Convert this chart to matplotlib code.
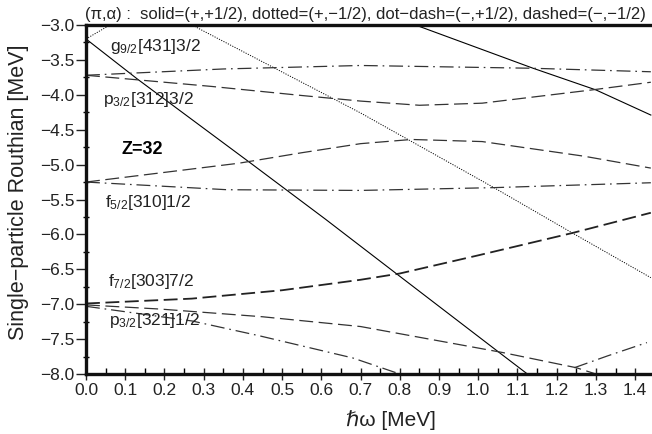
import numpy as np
import matplotlib
matplotlib.use("Agg")
import matplotlib.pyplot as plt

plt.rcParams['font.family'] = ['Liberation Sans', 'DejaVu Sans']
plt.rcParams['mathtext.fontset'] = 'custom'
plt.rcParams['mathtext.rm'] = 'Liberation Sans'
plt.rcParams['mathtext.it'] = 'Liberation Sans:italic'
plt.rcParams['mathtext.bf'] = 'Liberation Sans:bold'
plt.rcParams['lines.scale_dashes'] = False

# routhian curves, (hbar*omega [MeV], e' [MeV])
solid_a_w = [0.0, 0.13, 0.42, 0.61, 0.80, 1.06, 1.13]
solid_a_e = [-3.20, -3.77, -4.98, -5.78, -6.60, -7.72, -8.02]
solid_b_w = [0.84, 1.14, 1.30, 1.44]
solid_b_e = [-3.0, -3.62, -3.93, -4.29]

dotted_a_w = [0.0, 0.07]
dotted_a_e = [-3.20, -2.97]
dotted_b_w = [0.26, 0.70, 1.04, 1.24, 1.44]
dotted_b_e = [-2.97, -4.26, -5.33, -5.98, -6.62]

dashdot_a_w = [0.0, 0.35, 0.70, 1.14, 1.44]
dashdot_a_e = [-3.72, -3.63, -3.58, -3.62, -3.67]
dashdot_b_w = [0.0, 0.36, 0.70, 1.04, 1.44]
dashdot_b_e = [-5.25, -5.36, -5.37, -5.33, -5.26]
dashdot_c_w = [0.0, 0.27, 0.44, 0.68, 0.80]
dashdot_c_e = [-7.03, -7.24, -7.45, -7.77, -8.0]
dashdot_d_w = [1.245, 1.33, 1.43]
dashdot_d_e = [-7.91, -7.74, -7.55]

dashed_a_w = [0.0, 0.32, 0.55, 0.70, 0.85, 1.01, 1.29, 1.44]
dashed_a_e = [-3.72, -3.88, -4.01, -4.09, -4.15, -4.12, -3.93, -3.82]
dashed_b_w = [0.0, 0.39, 0.55, 0.70, 0.83, 1.01, 1.27, 1.44]
dashed_b_e = [-5.25, -4.98, -4.83, -4.70, -4.64, -4.67, -4.88, -5.05]
dashed_c_w = [0.0, 0.27, 0.50, 0.70, 0.80, 1.00, 1.24, 1.44]
dashed_c_e = [-6.99, -6.92, -6.80, -6.65, -6.56, -6.30, -5.98, -5.69]
dashed_d_w = [0.0, 0.19, 0.45, 0.70, 1.06, 1.25, 1.30]
dashed_d_e = [-7.01, -7.07, -7.18, -7.32, -7.69, -7.91, -8.0]

# orbital labels (left edge x, centre y)
labels = [r"g$_{\rm 9/2}$[431]3/2", r"p$_{\rm 3/2}$[312]3/2", r"f$_{\rm 5/2}$[310]1/2",
          r"f$_{\rm 7/2}$[303]7/2", r"p$_{\rm 3/2}$[321]1/2"]
label_w = [0.061, 0.044, 0.048, 0.057, 0.059]
label_e = [-3.31, -4.07, -5.54, -6.67, -7.24]


def minus_fmt(v, pos):
    return ("%.1f" % v).replace('-', '\u2212')


fig = plt.figure(figsize=(6.52, 4.34), dpi=100)
ax = fig.add_axes([86/652, 1 - 374/434, (652 - 86)/652, 349/434])

gray = '#333333'
for w, e in [(solid_a_w, solid_a_e), (solid_b_w, solid_b_e)]:
    ax.plot(w, e, color='black', lw=0.8)
for w, e in [(dotted_a_w, dotted_a_e), (dotted_b_w, dotted_b_e)]:
    ax.plot(w, e, color='black', lw=0.7, dashes=(0.8, 1.0))
for w, e in [(dashdot_a_w, dashdot_a_e), (dashdot_b_w, dashdot_b_e),
             (dashdot_c_w, dashdot_c_e), (dashdot_d_w, dashdot_d_e)]:
    ax.plot(w, e, color=gray, lw=0.9, dashes=(10, 3.5, 1.2, 3.5))
for w, e in [(dashed_a_w, dashed_a_e), (dashed_b_w, dashed_b_e), (dashed_d_w, dashed_d_e)]:
    ax.plot(w, e, color=gray, lw=0.9, dashes=(10, 4))
ax.plot(dashed_c_w, dashed_c_e, color='#222222', lw=1.3, dashes=(10, 4))

for s, w, e in zip(labels, label_w, label_e):
    ax.text(w, e, s, fontsize=12.5, ha='left', va='center', color='#222222')
ax.text(0.091, -4.79, "Z=32", fontsize=13, fontweight='bold', ha='left', va='center')

ax.set_xlim(0, 1.443)
ax.set_ylim(-8.0, -3.0)
ax.set_xticks(np.arange(0, 1.41, 0.1))
ax.set_xticks(np.arange(0.05, 1.44, 0.1), minor=True)
ax.set_yticks(np.arange(-8.0, -2.9, 0.5))
ax.set_yticks(np.arange(-7.75, -3.0, 0.5), minor=True)
ax.xaxis.set_major_formatter(plt.FuncFormatter(minus_fmt))
ax.yaxis.set_major_formatter(plt.FuncFormatter(minus_fmt))

ax.spines['right'].set_visible(False)
for side in ['left', 'bottom', 'top']:
    ax.spines[side].set_linewidth(2.4)
    ax.spines[side].set_color('#111111')
ax.tick_params(axis='x', which='major', direction='inout', length=9, width=1.0, labelsize=12.5, pad=2)
ax.tick_params(axis='x', which='minor', direction='in', length=4, width=1.0)
ax.tick_params(axis='y', which='major', direction='out', length=7, width=1.0, labelsize=12.5, pad=1.5)
ax.tick_params(axis='y', which='minor', direction='inout', length=5, width=1.0)
ax.tick_params(colors='#222222')

ax.set_xlabel("ℏω [MeV]", fontsize=15, color='#222222')
ax.xaxis.set_label_coords(0.539, -0.105)
ax.set_ylabel("Single−particle Routhian [MeV]", fontsize=15.5, color='#222222')
ax.yaxis.set_label_coords(-0.101, 0.52)

fig.text(85/652, 1 - 14/434,
         "(π,α) :  solid=(+,+1/2), dotted=(+,−1/2), dot−dash=(−,+1/2), dashed=(−,−1/2)",
         fontsize=12, ha='left', va='center', color='#222222')

plt.savefig('out.png', dpi=100)
